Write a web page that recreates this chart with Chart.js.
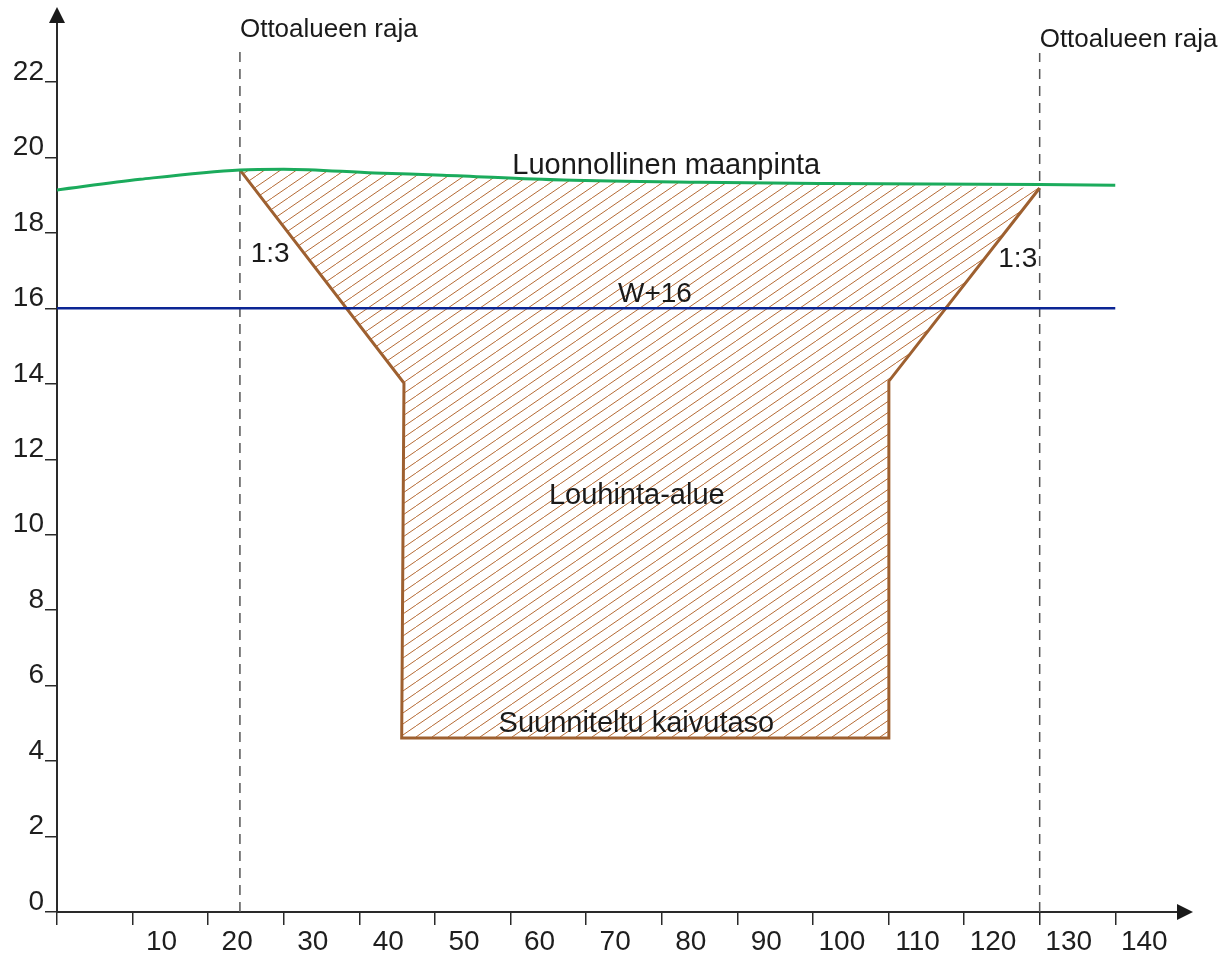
<!DOCTYPE html>
<html>
<head>
<meta charset="utf-8">
<script src="https://cdn.jsdelivr.net/npm/chart.js@4"></script>
<style>
  html, body { margin: 0; padding: 0; background: #fff; }
  #wrap { width: 1225px; height: 958px; position: relative; }
</style>
</head>
<body>
<div id="wrap"><canvas id="leikkaus"></canvas></div>
<script>
// maanpinta (luonnollinen)
const groundX = [0, 11, 24.2, 30, 42, 51, 67, 85, 102, 130, 140];
const groundY = [19.14, 19.42, 19.67, 19.69, 19.59, 19.53, 19.40, 19.34, 19.31, 19.28, 19.26];

// louhinta-alueen reunaviiva
const pitX = [24.2, 45.9, 45.6, 110.05, 110.05, 130];
const pitY = [19.67, 14.02, 4.61, 4.61, 14.07, 19.19];

// pohjavesi W+16
const waterX = [0, 140];
const waterY = [16, 16];

// ottoalueen rajat
const limitX = [24.2, 130];
const limitTop = [22.85, 22.77];

// tekstit
const noteText = ["Ottoalueen raja", "Ottoalueen raja", "Luonnollinen maanpinta", "W+16",
  "1:3", "1:3", "Louhinta-alue", "Suunniteltu kaivutaso"];
const noteX = [24.2, 130, 80.6, 79.1, 28.2, 127.1, 76.7, 76.65];
const noteY = [23.19, 22.93, 19.56, 16.17, 17.23, 17.09, 10.81, 4.78];
const noteAlign = ["left", "left", "center", "center", "center", "center", "center", "center"];
const noteSize = [26, 26, 29, 28, 28, 28, 29, 29];

const xStep = 10;
const yStep = 2;

const FONT = "'Liberation Sans', Arial, sans-serif";
Chart.defaults.font.family = FONT;

function pts(xs, ys) {
  return xs.map((x, i) => ({ x, y: ys[i] }));
}

// vinoviivoitus
function hatchPattern() {
  const w = 16, h = 11;
  const c = document.createElement("canvas");
  c.width = w; c.height = h;
  const g = c.getContext("2d");
  g.strokeStyle = "#b56a34";
  g.lineWidth = 1;
  for (let k = -1; k <= 1; k++) {
    g.beginPath();
    g.moveTo(k * w, h);
    g.lineTo(k * w + w, 0);
    g.stroke();
  }
  return g.createPattern(c, "repeat");
}

// täyttöalue = reunaviiva + maanpinta takaisin
const inner = groundX.map((x, i) => ({ x, y: groundY[i] }))
  .filter(p => p.x > pitX[0] && p.x < pitX[pitX.length - 1])
  .reverse();
const hatchData = pts(pitX, pitY).concat(inner, [{ x: pitX[0], y: pitY[0] }]);

const overlay = {
  id: "overlay",
  afterDraw(chart) {
    const { ctx, chartArea: a, scales } = chart;
    ctx.save();
    ctx.fillStyle = "#1a1a1a";
    // nuolet
    ctx.beginPath();
    ctx.moveTo(a.left - 8, a.top + 1);
    ctx.lineTo(a.left + 8, a.top + 1);
    ctx.lineTo(a.left, a.top - 15);
    ctx.closePath();
    ctx.fill();
    ctx.beginPath();
    ctx.moveTo(a.right - 1, a.bottom - 8);
    ctx.lineTo(a.right - 1, a.bottom + 8);
    ctx.lineTo(a.right + 15, a.bottom);
    ctx.closePath();
    ctx.fill();
    // tekstit
    ctx.textBaseline = "alphabetic";
    noteText.forEach((t, i) => {
      ctx.font = noteSize[i] + "px " + FONT;
      ctx.textAlign = noteAlign[i];
      ctx.fillText(t, scales.x.getPixelForValue(noteX[i]), scales.y.getPixelForValue(noteY[i]));
    });
    ctx.restore();
  }
};

const datasets = [
  {
    data: pts(groundX, groundY),
    borderColor: "#1bab5c",
    borderWidth: 3,
    cubicInterpolationMode: "monotone",
    order: 1,
  },
  {
    data: pts(waterX, waterY),
    borderColor: "#0b2594",
    borderWidth: 2.5,
    order: 2,
  },
  {
    data: pts(pitX, pitY),
    borderColor: "#9e6030",
    borderWidth: 3,
    order: 3,
  },
  {
    data: hatchData,
    borderWidth: 0,
    borderColor: "rgba(0,0,0,0)",
    backgroundColor: hatchPattern(),
    fill: "shape",
    order: 9,
  },
];
limitX.forEach((x, i) => {
  datasets.push({
    data: [{ x, y: 0 }, { x, y: limitTop[i] }],
    borderColor: "#555",
    borderWidth: 1.5,
    borderDash: [10, 7],
    order: 4,
  });
});

new Chart(document.getElementById("leikkaus"), {
  type: "scatter",
  data: { datasets },
  options: {
    responsive: true,
    maintainAspectRatio: false,
    animation: false,
    showLine: true,
    elements: { point: { radius: 0, hoverRadius: 0 }, line: { tension: 0 } },
    layout: { padding: { top: 22, right: 47, left: 0, bottom: 0 } },
    plugins: { legend: { display: false }, tooltip: { enabled: false } },
    scales: {
      x: {
        type: "linear",
        min: 0,
        max: 148.3,
        afterFit(s) { s.height = 46; },
        border: { display: true, color: "#2a2a2a", width: 2 },
        grid: { drawOnChartArea: false, drawTicks: true, tickLength: 13, color: "#2a2a2a", lineWidth: 1.5 },
        ticks: {
          stepSize: xStep,
          autoSkip: false,
          includeBounds: false,
          maxRotation: 0,
          labelOffset: 29,
          padding: 0,
          color: "#1e1e1e",
          font: { size: 28 },
          callback: v => (v === 0 ? "" : String(v)),
        },
      },
      y: {
        type: "linear",
        min: 0,
        max: 23.59,
        afterFit(s) { s.width = 57; },
        border: { display: true, color: "#2a2a2a", width: 2 },
        grid: { drawOnChartArea: false, drawTicks: true, tickLength: 12, color: "#2a2a2a", lineWidth: 1.5 },
        ticks: {
          stepSize: yStep,
          autoSkip: false,
          includeBounds: false,
          labelOffset: -10,
          padding: 1,
          color: "#1e1e1e",
          font: { size: 28 },
        },
      },
    },
  },
  plugins: [overlay],
});
</script>
</body>
</html>
